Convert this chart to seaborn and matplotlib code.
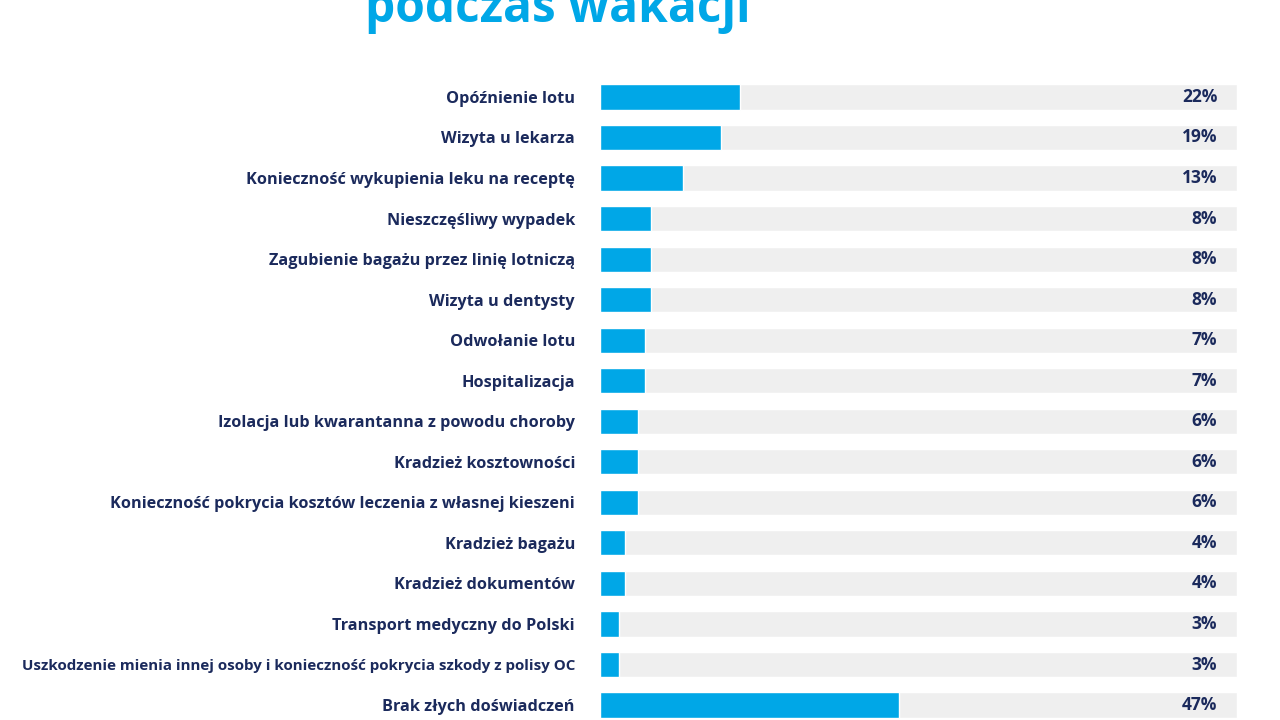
import matplotlib
matplotlib.use("Agg")
import matplotlib.pyplot as plt
import seaborn as sns
import pandas as pd

categories = [
    "Opóźnienie lotu",
    "Wizyta u lekarza",
    "Konieczność wykupienia leku na receptę",
    "Nieszczęśliwy wypadek",
    "Zagubienie bagażu przez linię lotniczą",
    "Wizyta u dentysty",
    "Odwołanie lotu",
    "Hospitalizacja",
    "Izolacja lub kwarantanna z powodu choroby",
    "Kradzież kosztowności",
    "Konieczność pokrycia kosztów leczenia z własnej kieszeni",
    "Kradzież bagażu",
    "Kradzież dokumentów",
    "Transport medyczny do Polski",
    "Uszkodzenie mienia innej osoby i konieczność pokrycia szkody z polisy OC",
    "Brak złych doświadczeń",
]
values = [22, 19, 13, 8, 8, 8, 7, 7, 6, 6, 6, 4, 4, 3, 3, 47]
full = [100] * len(categories)

title = "podczas wakacji"

BLUE = "#00a7e7"
GREY = "#efefef"
NAVY = "#1b2a5c"

df = pd.DataFrame({"cat": categories, "val": values, "full": full})

sns.set_theme(style="white")
plt.rcParams["font.family"] = ["Open Sans", "DejaVu Sans"]

fig = plt.figure(figsize=(12.8, 7.2), dpi=100)
ax = fig.add_axes([0.46875, -0.0074, 0.4977, 0.9009])

# grey track = 100%, blue bar = share
sns.barplot(data=df, x="full", y="cat", color=GREY, width=0.62, ax=ax,
            saturation=1, orient="h")
sns.barplot(data=df, x="val", y="cat", color=BLUE, width=0.62, ax=ax,
            saturation=1, orient="h")

ax.set_xlim(0, 100)
ax.set_ylim(len(categories) - 0.5, -0.5)
ax.set_xlabel("")
ax.set_ylabel("")
ax.set_xticks([])
ax.set_yticks(range(len(categories)))
ax.set_yticklabels(categories, fontsize=11.7, fontweight="bold", color=NAVY)
ax.tick_params(axis="y", length=0, pad=18)
# longest label is set tighter in the original
ax.get_yticklabels()[14].set_fontsize(10.9)
sns.despine(ax=ax, left=True, bottom=True)

for i, v in enumerate(values):
    ax.text(96.9, i, f"{v}%", ha="right", va="center", fontsize=12.5,
            fontweight="bold", color=NAVY)

fig.text(0.4355, 0.969, title, ha="center", va="baseline", fontsize=34.5,
         fontweight="bold", color=BLUE)

fig.savefig("out.png", dpi=100)
